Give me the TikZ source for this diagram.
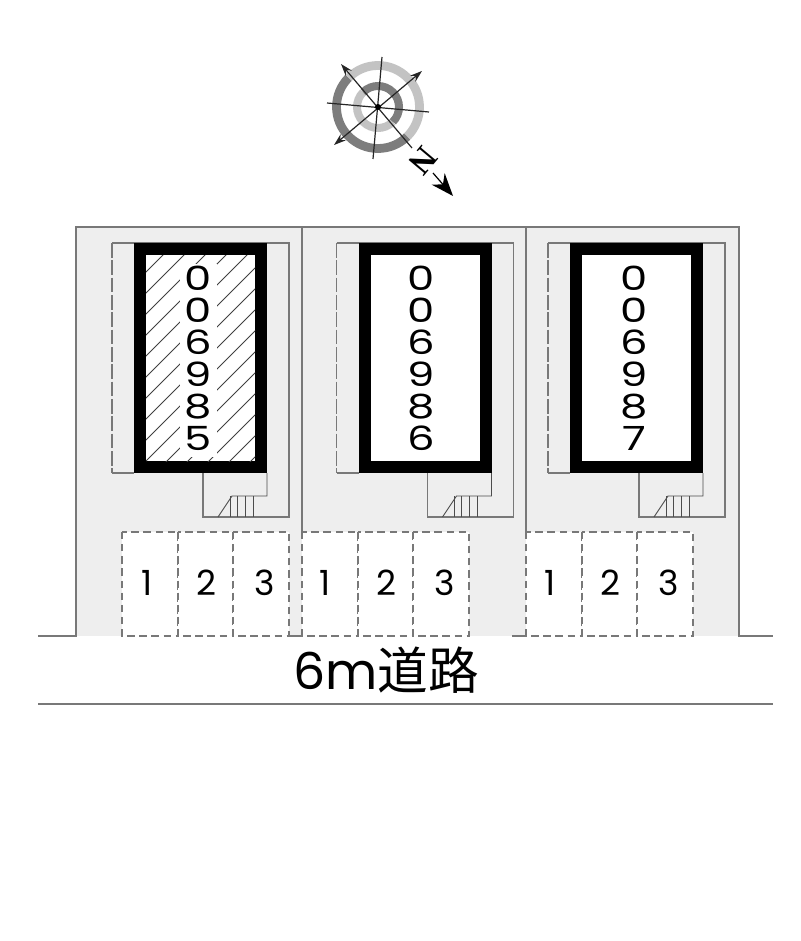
\documentclass[tikz,border=0pt]{standalone}
\usepackage{fontspec}
\usepackage{xcolor}
\usetikzlibrary{arrows.meta}
\setmainfont{Poppins}
\newfontfamily\cjk{Noto Sans CJK JP}
\newfontfamily\nfont{Liberation Serif}
\definecolor{lotgray}{RGB}{238,238,238}
\definecolor{wallgray}{RGB}{120,120,120}
\definecolor{ringdark}{RGB}{125,125,125}
\definecolor{ringlight}{RGB}{195,195,195}
\tikzset{
  wall/.style={draw=wallgray,line width=0.9pt},
  stairline/.style={draw=black!70,line width=0.7pt},
  bay/.style={draw=wallgray,line width=0.9pt,fill=white,dash pattern=on 5.5pt off 3.6pt},
  roomno/.style={align=center,inner sep=0pt,font=\fontsize{25pt}{24pt}\selectfont,xscale=1.3},
  bayno/.style={inner sep=0pt,font=\fontsize{26pt}{26pt}\selectfont},
  needle/.style={draw=black!85,line width=0.9pt},
  needlearrow/.style={needle,-{Stealth[length=9pt,width=6pt]}}
}
\begin{document}
\begin{tikzpicture}[x=0.75pt,y=-0.75pt]
\useasboundingbox (0,0) rectangle (800,941);
% site
\fill[lotgray] (76,227) rectangle (739,636);
\draw[wall] (38,636) -- (76,636) -- (76,227) -- (739,227) -- (739,636) -- (773,636);
\draw[wall] (302,227) -- (302,532);
\draw[wall] (526,227) -- (526,532);
\draw[wall] (289,636) -- (302,636);
\draw[wall] (512,636) -- (526,636);
\draw[wall] (38,704) -- (773,704);
% buildings
\foreach \lot/\dx in {a/0,b/224.5,c/436}{
  \begin{scope}[xshift=\dx*0.75pt]
  \draw[wall,dash pattern=on 11pt off 2pt] (112,243) -- (112,473);
  \draw[wall] (112,473) -- (134,473);
  \draw[wall] (112,243) -- (289,243) -- (289,517) -- (203,517) -- (203,473);
  \draw[stairline] (267,473) -- (267,496) -- (232,496) -- (218,517);
  \foreach \sx in {230,237,245,253}
    \draw[stairline] (\sx,496) -- (\sx,517);
  \draw[line width=9pt,fill=white] (140,249) rectangle (261,467);
  \end{scope}
}
% hatching of the first building
\begin{scope}
\clip (146,255) rectangle (255,461);
\foreach \c in {418,439,...,712}
  \draw[black!75,line width=0.6pt] (100,\c-100) -- (300,\c-300);
\end{scope}
\fill[white] (180,264) rectangle (217,457);
% room numbers
\node[roomno] (rooma) at (198.5,358) {0\\0\\6\\9\\8\\5};
\node[roomno] (roomb) at (421,358) {0\\0\\6\\9\\8\\6};
\node[roomno] (roomc) at (634.5,358) {0\\0\\6\\9\\8\\7};
% parking
\foreach \lot/\dx in {a/0,b/180,c/404}{
  \begin{scope}[xshift=\dx*0.75pt]
  \draw[bay] (122,532) rectangle (178,636);
  \draw[bay] (178,532) rectangle (233,636);
  \draw[bay] (233,532) rectangle (289,636);
  \end{scope}
}
\node[bayno] (baya1) at (147,583) {1};
\node[bayno] (baya2) at (206.5,583) {2};
\node[bayno] (baya3) at (265,583) {3};
\node[bayno] (bayb1) at (325,583) {1};
\node[bayno] (bayb2) at (386,583) {2};
\node[bayno] (bayb3) at (445,583) {3};
\node[bayno] (bayc1) at (550,583) {1};
\node[bayno] (bayc2) at (610,583) {2};
\node[bayno] (bayc3) at (669,583) {3};
% road
\node[inner sep=0pt] (road) at (386,670) {\fontsize{38pt}{42pt}\selectfont 6m\cjk 道路};
% compass
\coordinate (hub) at (378,107);
\draw[ringdark,line width=6.6pt] ([shift={(225:41.5)}]hub) arc[start angle=225,end angle=45,radius=41.5];
\draw[ringlight,line width=6.6pt] ([shift={(225:41.5)}]hub) arc[start angle=225,end angle=405,radius=41.5];
\draw[ringlight,line width=6pt] ([shift={(225:21)}]hub) arc[start angle=225,end angle=45,radius=21];
\draw[ringdark,line width=6pt] ([shift={(225:21)}]hub) arc[start angle=225,end angle=405,radius=21];
\coordinate (nw) at (341,64);
\coordinate (se) at (412,148);
\coordinate (ne) at (422,71);
\coordinate (sw) at (334,145);
\coordinate (up) at (382,57);
\coordinate (dn) at (373,159);
\coordinate (lf) at (327,103);
\coordinate (rt) at (429,112);
\coordinate (tip) at (453,196);
\draw[needlearrow] (se) -- (nw);
\draw[needlearrow,{Stealth[length=9pt,width=6pt]}-{Stealth[length=9pt,width=6pt]}] (sw) -- (ne);
\draw[needle] (up) -- (dn);
\draw[needle] (lf) -- (rt);
\fill[black] (hub) circle (3);
\node[inner sep=0pt,rotate=-130,font=\nfont\bfseries\fontsize{25pt}{25pt}\selectfont] (north) at (423,161) {N};
\draw[line width=0.9pt,-{Stealth[length=17pt,width=13pt]}] (433,173) -- (tip);
\end{tikzpicture}
\end{document}
